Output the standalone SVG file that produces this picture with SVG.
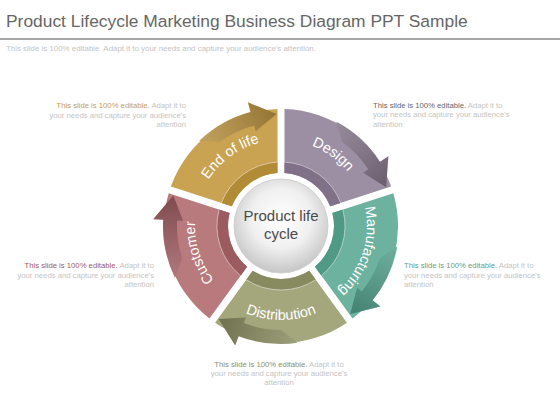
<svg xmlns="http://www.w3.org/2000/svg" width="560" height="420" viewBox="0 0 560 420">
<style>
  .title{font-family:"Liberation Sans",Arial,sans-serif;font-size:17.4px;fill:#666666}
  .sub{font-family:"Liberation Sans",Arial,sans-serif;font-size:7.9px;fill:#c4c4c4}
  .note{font-family:"Liberation Sans",Arial,sans-serif;font-size:7.7px;fill:#c4c4c4}
  .lbl{font-family:"Liberation Sans",Arial,sans-serif;font-size:14.5px;fill:#ffffff}
  .ctr{font-family:"Liberation Sans",Arial,sans-serif;font-size:15px;fill:#4a4a4a}
  .rl{fill:none;stroke:#ffffff;stroke-opacity:0.55;stroke-width:0.8}
</style>
<defs>
  <path id="seg" d="M3.49,-116.95 A117,117 0 0 1 110.14,-39.46 L49.21,-19.68 A53,53 0 0 0 3.50,-52.88 Z"/>
  <path id="rim" d="M3.49,-63.90 A64,64 0 0 1 59.70,-23.07 L49.21,-19.68 A53,53 0 0 0 3.50,-52.88 Z"/>
  <path id="rimline" d="M3.49,-63.90 A64,64 0 0 1 59.70,-23.07"/>
  <path id="arrow" d="M55.40,-104.19 A118,118 0 0 1 98.96,-64.27 L107.35,-69.71 L105.11,-38.67 L82.19,-53.37 L87.22,-56.64 A104,104 0 0 0 61.13,-84.14 Z"/>
  <path id="tp-out" d="M0,-86 A86,86 0 0 1 81.79,-26.58" fill="none"/>
  <path id="tp-in" d="M89.40,-29.05 A94,94 0 0 0 0,-94" fill="none"/>
  <linearGradient id="shade" gradientUnits="userSpaceOnUse" x1="55" y1="-104" x2="106" y2="-45">
    <stop offset="0" stop-color="#ffffff" stop-opacity="0.15"/>
    <stop offset="1" stop-color="#000000" stop-opacity="0.18"/>
  </linearGradient>
  <radialGradient id="hub" cx="50%" cy="42%" r="58%">
    <stop offset="0" stop-color="#ffffff"/>
    <stop offset="0.55" stop-color="#f0f0f0"/>
    <stop offset="1" stop-color="#c6c6c6"/>
  </radialGradient>
</defs>

<text class="title" x="6" y="27">Product Lifecycle Marketing Business Diagram PPT Sample</text>
<line x1="0" y1="39" x2="560" y2="39" stroke="#8a8a8a" stroke-width="1.5"/>
<text class="sub" x="6" y="51">This slide is 100% editable.  Adapt it to your needs and capture your audience's attention.</text>

<g id="design" transform="translate(281,226) rotate(0)">
  <use href="#seg" fill="#9d8fa3"/>
  <use href="#rim" fill="#807188"/>
  <use href="#rimline" class="rl"/>
  <text class="lbl"><textPath href="#tp-out" startOffset="50%" text-anchor="middle">Design</textPath></text>
</g>
<g id="manufacturing" transform="translate(281,226) rotate(72)">
  <use href="#seg" fill="#6db19f"/>
  <use href="#rim" fill="#4f9985"/>
  <use href="#rimline" class="rl"/>
  <text class="lbl"><textPath href="#tp-out" startOffset="50%" text-anchor="middle">Manufacturing</textPath></text>
</g>
<g id="distribution" transform="translate(281,226) rotate(144)">
  <use href="#seg" fill="#a4a67c"/>
  <use href="#rim" fill="#888b60"/>
  <use href="#rimline" class="rl"/>
  <text class="lbl"><textPath href="#tp-in" startOffset="50%" text-anchor="middle">Distribution</textPath></text>
</g>
<g id="customer" transform="translate(281,226) rotate(216)">
  <use href="#seg" fill="#b97a7d"/>
  <use href="#rim" fill="#9b5b5f"/>
  <use href="#rimline" class="rl"/>
  <text class="lbl"><textPath href="#tp-out" startOffset="50%" text-anchor="middle">Customer</textPath></text>
</g>
<g id="end-of-life" transform="translate(281,226) rotate(288)">
  <use href="#seg" fill="#c9a352"/>
  <use href="#rim" fill="#b28b37"/>
  <use href="#rimline" class="rl"/>
  <text class="lbl"><textPath href="#tp-out" startOffset="50%" text-anchor="middle">End of life</textPath></text>
</g>

<g id="connectors">
  <g transform="translate(281,226) rotate(0)"><use href="#arrow" fill="#837589"/><use href="#arrow" fill="url(#shade)"/></g>
  <g transform="translate(281,226) rotate(72)"><use href="#arrow" fill="#54a08b"/><use href="#arrow" fill="url(#shade)"/></g>
  <g transform="translate(281,226) rotate(144)"><use href="#arrow" fill="#8a8d62"/><use href="#arrow" fill="url(#shade)"/></g>
  <g transform="translate(281,226) rotate(216)"><use href="#arrow" fill="#9e5e63"/><use href="#arrow" fill="url(#shade)"/></g>
  <g transform="translate(281,226) rotate(288)"><use href="#arrow" fill="#b89142"/><use href="#arrow" fill="url(#shade)"/></g>
</g>

<g id="hub-node">
  <circle cx="281" cy="226" r="47" fill="url(#hub)" stroke="#d0d0d0" stroke-width="1"/>
  <text class="ctr" x="281" y="221" text-anchor="middle">Product life</text>
  <text class="ctr" x="281" y="239" text-anchor="middle">cycle</text>
</g>

<g id="note-end-of-life" class="note" text-anchor="end">
  <text x="186" y="108.3"><tspan fill="#c59c52">This slide is 100% editable.</tspan> Adapt it to</text>
  <text x="186" y="117.6">your needs and capture your audience's</text>
  <text x="186" y="126.9">attention</text>
</g>
<g id="note-design" class="note">
  <text x="373" y="107.6"><tspan fill="#666666">This slide is 100% editable.</tspan> Adapt it to</text>
  <text x="373" y="117">your needs and capture your audience's</text>
  <text x="373" y="126.6">attention</text>
</g>
<g id="note-customer" class="note" text-anchor="end">
  <text x="154" y="268.3"><tspan fill="#9e5a5e">This slide is 100% editable.</tspan> Adapt it to</text>
  <text x="154" y="277.6">your needs and capture your audience's</text>
  <text x="154" y="287">attention</text>
</g>
<g id="note-manufacturing" class="note">
  <text x="404" y="268.3"><tspan fill="#5fa08c">This slide is 100% editable.</tspan> Adapt it to</text>
  <text x="404" y="277.6">your needs and capture your audience's</text>
  <text x="404" y="287">attention</text>
</g>
<g id="note-distribution" class="note" text-anchor="middle">
  <text x="279" y="367.3"><tspan fill="#8d8f62">This slide is 100% editable.</tspan> Adapt it to</text>
  <text x="279" y="376.3">your needs and capture your audience's</text>
  <text x="279" y="385.3">attention</text>
</g>
</svg>
